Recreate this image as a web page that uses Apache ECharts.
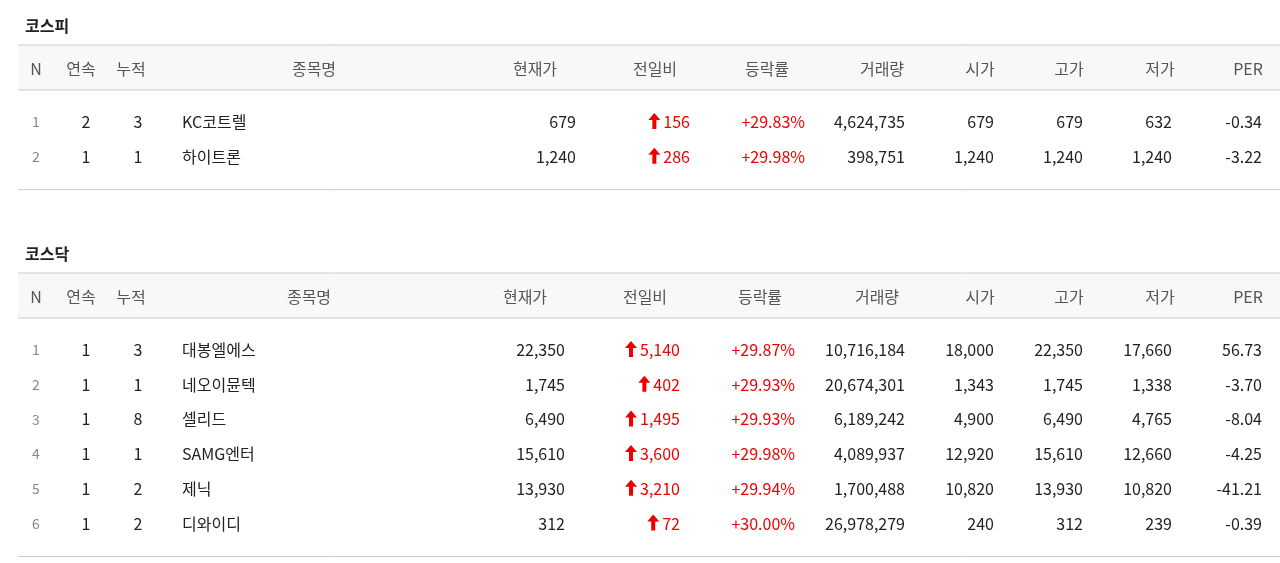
<!DOCTYPE html>
<html><head><meta charset="utf-8">
<script src="https://cdn.jsdelivr.net/npm/echarts@6/dist/echarts.min.js"></script>
<style>html,body{margin:0;padding:0;background:#fff}#c{width:1280px;height:563px}</style>
</head><body><div id="c"></div>
<script>
const headers = ['N','연속','누적','종목명','현재가','전일비','등락률','거래량','시가','고가','저가','PER'];
const kospiNames = ['KC코트렐','하이트론'];
const kospiRows = [
 ['1','2','3','KC코트렐','679','156','+29.83%','4,624,735','679','679','632','-0.34'],
 ['2','1','1','하이트론','1,240','286','+29.98%','398,751','1,240','1,240','1,240','-3.22']
];
const kosdaqRows = [
 ['1','1','3','대봉엘에스','22,350','5,140','+29.87%','10,716,184','18,000','22,350','17,660','56.73'],
 ['2','1','1','네오이뮨텍','1,745','402','+29.93%','20,674,301','1,343','1,745','1,338','-3.70'],
 ['3','1','8','셀리드','6,490','1,495','+29.93%','6,189,242','4,900','6,490','4,765','-8.04'],
 ['4','1','1','SAMG엔터','15,610','3,600','+29.98%','4,089,937','12,920','15,610','12,660','-4.25'],
 ['5','1','2','제닉','13,930','3,210','+29.94%','1,700,488','10,820','13,930','10,820','-41.21'],
 ['6','1','2','디와이디','312','72','+30.00%','26,978,279','240','312','239','-0.39']
];
const sections = [
 {title:'코스피', top:26, rows:kospiRows,
  hdrX:[36,81,131,314,535,655,767,882,980,1069,1160,1248],
  valX:[36,86,138,182,576,690,805,905,994,1083,1172,1262]},
 {title:'코스닥', top:254, rows:kosdaqRows,
  hdrX:[36,81,131,309,525,645,760,877,980,1069,1160,1248],
  valX:[36,86,138,182,565,680,795,905,994,1083,1172,1262]}
];
const F = '"Noto Sans CJK KR", sans-serif';
const els = [];
sections.forEach(s=>{
  const t = s.top;
  els.push({type:'text',x:25,y:t,style:{text:s.title,font:'bold 16px '+F,fill:'#222',verticalAlign:'middle'}});
  els.push({type:'rect',shape:{x:18,y:t+19,width:1262,height:45},style:{fill:'#f8f8f8'}});
  els.push({type:'line',shape:{x1:18,y1:t+19,x2:1280,y2:t+19},style:{stroke:'#ccc',lineWidth:1}});
  els.push({type:'line',shape:{x1:18,y1:t+64,x2:1280,y2:t+64},style:{stroke:'#ccc',lineWidth:1}});
  headers.forEach((h,i)=>els.push({type:'text',x:s.hdrX[i],y:t+43,style:{text:h,font:'16px '+F,fill:'#555',align:'center',verticalAlign:'middle'}}));
  s.rows.forEach((r,ri)=>{
    const y = t+96+ri*34.7;
    r.forEach((v,i)=>{
      let align = i<3?'center':(i===3?'left':'right');
      let fill = (i===5||i===6)?'#e00':'#222';
      let font = (i===0?'14px ':'16px ')+F;
      if(i===0) fill='#888';
      els.push({type:'text',x:s.valX[i],y:y,style:{text:v,font:font,fill:fill,align:align,verticalAlign:'middle'}});
      if(i===5){
        const w = echarts.format.getTextRect ? echarts.format.getTextRect(v,font).width : v.length*9;
        const ax = s.valX[i]-w-9;
        els.push({type:'polygon',shape:{points:[[ax,y-9],[ax-6,y-2],[ax-2,y-2],[ax-2,y+7],[ax+2,y+7],[ax+2,y-2],[ax+6,y-2]]},style:{fill:'#e00'}});
      }
    });
  });
  const by = t+96+(s.rows.length-1)*34.7+33;
  els.push({type:'line',shape:{x1:18,y1:by,x2:1280,y2:by},style:{stroke:'#ccc',lineWidth:1}});
});
const chart = echarts.init(document.getElementById('c'));
chart.setOption({animation:false,graphic:{elements:els}});
</script></body></html>
